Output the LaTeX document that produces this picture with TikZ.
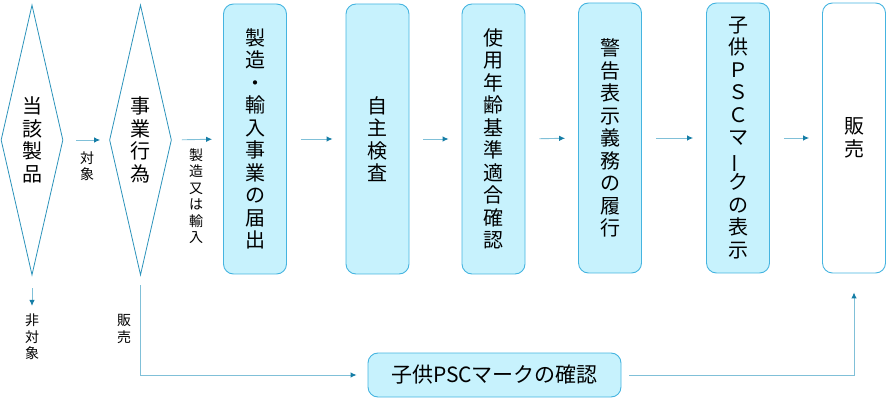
\documentclass[tikz,border=0pt]{standalone}
\usepackage{fontspec}
\setmainfont{Noto Sans CJK JP}
\usetikzlibrary{shapes.geometric,arrows.meta}
\definecolor{boxfill}{HTML}{C7F2FD}
\definecolor{boxline}{HTML}{45B4E0}
\definecolor{flowline}{HTML}{80C0D8}
\definecolor{flowhead}{HTML}{157DA6}
\definecolor{diamline}{HTML}{2B93BB}

\begin{document}
\begin{tikzpicture}[x=1pt,y=-1pt,
      every node/.style = {align=center, inner sep=0pt},
      flowbox/.style = {shape=rectangle, rounded corners=10pt,
        draw=boxline, fill=boxfill, line width=0.9pt,
        minimum width=63pt, minimum height=270pt,
        font=\fontsize{20}{22.5}\selectfont},
      judge/.style = {shape=diamond, aspect=0.23, draw=diamline,
        line width=0.8pt, fill=white,
        minimum width=62pt, minimum height=270pt,
        font=\fontsize{20}{22.5}\selectfont},
      note/.style = {font=\fontsize{14}{16.5}\selectfont},
      flow/.style = {draw=flowline, line width=0.9pt,
        -{Latex[length=6pt,width=5.5pt,color=flowhead]},
        shorten <=14pt, shorten >=13pt}]
      \useasboundingbox (0,0) rectangle (886,403);
      % judgements
      \node[judge] (tougai) at (32,140) {当\\該\\製\\品};
      \node[judge] (jigyou) at (140.5,140) {事\\業\\行\\為};
      % steps
      \node[flowbox] (todokede) at (255,139) {製\\造\\・\\輸\\入\\事\\業\\の\\届\\出};
      \node[flowbox] (jishu) at (377.5,139) {自\\主\\検\\査};
      \node[flowbox] (nenrei) at (493.5,139) {使\\用\\年\\齢\\基\\準\\適\\合\\確\\認};
      \node[flowbox] (keikoku) at (610,138) {警\\告\\表\\示\\義\\務\\の\\履\\行};
      \node[flowbox] (hyouji) at (738,138) {子\\供\\Ｐ\\Ｓ\\Ｃ\\マ\\\rotatebox[origin=c]{90}{ー}\\ク\\の\\表\\示};
      \node[flowbox, fill=white] (hanbai) at (854,138) {販\\売};
      \node[flowbox, minimum width=253pt, minimum height=44pt,
        font=\fontsize{21}{24}\selectfont] (kakunin) at (494.5,375) {子供PSCマークの確認};
      % labels
      \node[note] (taishou) at (87,166) {対\\象};
      \node[note] (seizou) at (196,196) {製\\造\\又\\は\\輸\\入};
      \node[note] (hitaishou) at (32,337) {非\\対\\象};
      \node[note] (hanbailbl) at (124,329) {販\\売};
      % connectors
      \draw[flow, shorten <=13pt, shorten >=9pt] (tougai.east) -- (jigyou.west);
      \draw[flow, shorten <=10pt, shorten >=11pt] (jigyou.east) -- (todokede.west);
      \draw[flow] (todokede.east) -- (jishu.west);
      \draw[flow] (jishu.east) -- (nenrei.west);
      \draw[flow] (nenrei.east) -- (keikoku.west);
      \draw[flow] (keikoku.east) -- (hyouji.west);
      \draw[flow] (hyouji.east) -- (hanbai.west);
      \draw[flow, shorten <=13pt, shorten >=8pt] (tougai.south) -- (hitaishou.north);
      \draw[flow, shorten <=10pt, shorten >=11pt] (jigyou.south) |- (kakunin.west);
      \draw[flow, shorten <=8pt, shorten >=19pt] (kakunin.east) -| (hanbai.south);
  \end{tikzpicture}
\end{document}
